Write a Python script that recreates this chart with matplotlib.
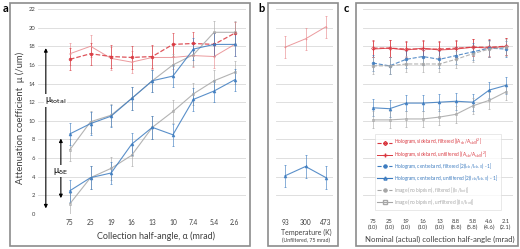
import matplotlib.pyplot as plt
from matplotlib.patches import Rectangle
from matplotlib.lines import Line2D

plt.rcParams['font.family'] = ['Lato', 'DejaVu Sans']

# panel a: attenuation vs collection half-angle
angles_a = ['75', '25', '19', '16', '13', '10', '7.4', '5.4', '2.6']
sb_filt_a = [16.6, 17.2, 16.9, 16.8, 16.9, 18.2, 18.3, 18.2, 19.4]
sb_unfilt_a = [17.2, 18.0, 16.7, 16.3, 16.8, 16.8, 17.0, 16.9, 18.2]
cb_total_a = [8.6, 9.7, 10.5, 12.4, 14.3, 14.8, 17.7, 18.2, 18.2]
img_total_a = [6.9, 9.9, 10.6, 12.4, 14.3, 16.0, 17.1, 19.5, 19.5]
cb_de_a = [2.5, 3.9, 4.4, 7.5, 9.3, 8.5, 12.3, 13.2, 14.4]
img_de_a = [1.1, 3.9, 4.9, 6.3, 9.3, 11.0, 12.9, 14.3, 15.2]
err_a = 1.2

# panel b: temperature
temps = ['93', '300', '473']
sb_temp = [17.9, 18.8, 20.1]
cb_temp = [4.1, 5.1, 3.9]
err_b = 1.2

# panel c: nominal (actual) half-angle
angles_c = ['75\n(10)', '25\n(10)', '19\n(10)', '16\n(10)', '13\n(10)',
            '8.8\n(8.8)', '5.8\n(5.8)', '4.6\n(4.6)', '2.1\n(2.1)']
sb_filt_c = [17.8, 17.8, 17.7, 17.7, 17.7, 17.8, 17.9, 17.9, 18.0]
sb_unfilt_c = [17.7, 17.8, 17.6, 17.8, 17.6, 17.7, 17.9, 17.8, 18.0]
cb_filt_c = [16.2, 15.9, 16.6, 16.9, 16.6, 17.0, 17.4, 17.8, 17.7]
cb_unfilt_c = [11.4, 11.3, 11.9, 11.9, 12.0, 12.1, 12.0, 13.3, 13.8]
img_filt_c = [15.9, 15.9, 16.1, 16.1, 16.1, 16.6, 17.2, 17.7, 17.9]
img_unfilt_c = [10.1, 10.1, 10.2, 10.2, 10.4, 10.7, 11.6, 12.2, 13.1]
err_c = 0.9

legend_labels = [
    r'Hologram, sideband, filtered [(A$_{sb}$/A$_{sb0}$)$^2$]',
    r'Hologram, sideband, unfiltered [(A$_{sb}$/A$_{sb0}$)$^2$]',
    r'Hologram, centreband, filtered [2(I$_{cb}$/I$_{cb,0}$) - 1]',
    r'Hologram, centreband, unfiltered [2(I$_{cb}$/I$_{cb,0}$) - 1]',
    r'Image (no biprism), filtered [(I$_0$/I$_{tot}$)]',
    r'Image (no biprism), unfiltered [(I$_0$/I$_{tot}$)]',
]

RED = '#d9373f'
RED_L = '#e8898d'
BLUE = '#3d7cc0'
GREY = '#a6a6a6'
GRID = '#d9d9d9'

W, H = 520, 249
fig = plt.figure(figsize=(W / 100, H / 100), dpi=100)


def box(x0, y0, x1, y1):
    return [x0 / W, 1 - y1 / H, (x1 - x0) / W, (y1 - y0) / H]


def frame(x0, y0, x1, y1):
    fig.patches.append(Rectangle((x0 / W, 1 - y1 / H), (x1 - x0) / W, (y1 - y0) / H,
                                 transform=fig.transFigure, fill=False,
                                 edgecolor='#8c8c8c', linewidth=1.2))


def setup(ax, xlim):
    ax.set_ylim(0, 22)
    ax.set_xlim(*xlim)
    ax.set_yticks(range(0, 23, 2))
    ax.grid(axis='y', color=GRID, linewidth=0.6)
    ax.set_axisbelow(True)
    for s in ax.spines.values():
        s.set_visible(False)
    ax.tick_params(length=0, labelsize=4.2, colors='#404040')


def series(ax, y, color, err, ls='-', marker='o', mfc=None, lw=0.8, ms=2.0):
    x = range(len(y))
    ax.errorbar(x, y, yerr=err, color=color, linestyle=ls, linewidth=lw,
                marker=marker, markersize=ms, markerfacecolor=mfc or color,
                markeredgewidth=0.5, elinewidth=0.5, ecolor=color, capsize=1.0,
                capthick=0.5, alpha=0.85)


# frames
frame(10, 3, 250, 246)
frame(268, 3, 338, 246)
frame(356, 3, 518, 246)

# ---------- panel a ----------
ax_a = fig.add_axes(box(38, 9, 246, 214))
setup(ax_a, (-1.55, 8.55))
ax_a.set_xticks(range(len(angles_a)), angles_a)
ax_a.tick_params(axis='x', labelsize=4.8, pad=3.5)
ax_a.tick_params(axis='y', pad=2)
series(ax_a, sb_unfilt_a, RED_L, err_a, ls='-', marker='+', lw=0.7)
series(ax_a, sb_filt_a, RED, err_a, ls='--', marker='o', lw=0.9)
series(ax_a, img_total_a, GREY, err_a, ls='-', marker='s', mfc='none', lw=0.8)
series(ax_a, cb_total_a, BLUE, err_a, ls='-', marker='^', lw=0.8)
series(ax_a, img_de_a, GREY, err_a, ls='-', marker='s', mfc='none', lw=0.8)
series(ax_a, cb_de_a, BLUE, err_a, ls='-', marker='^', lw=0.8)

ax_a.annotate('', xy=(-1.17, 17.8), xytext=(-1.17, 0.6),
              arrowprops=dict(arrowstyle='<|-|>', color='black', lw=0.8,
                              mutation_scale=5, shrinkA=0, shrinkB=0))
ax_a.text(-1.2, 12.2, r'μ$_{\rm total}$', fontsize=6.5, va='center', ha='left',
          bbox=dict(facecolor='white', edgecolor='none', pad=0.5))
ax_a.annotate('', xy=(-0.44, 8.1), xytext=(-0.44, 1.7),
              arrowprops=dict(arrowstyle='<|-|>', color='black', lw=0.8,
                              mutation_scale=5, shrinkA=0, shrinkB=0))
ax_a.text(-0.45, 4.6, r'μ$_{\rm δE}$', fontsize=6.5, va='center', ha='center',
          bbox=dict(facecolor='white', edgecolor='none', pad=0.5))

fig.text(3 / W, 1 - 8 / H, 'a', fontsize=8, fontweight='bold', va='center')
fig.text(20 / W, 1 - 118 / H, 'Attenuation coefficient  μ (/um)', fontsize=6.8,
         rotation=90, va='center', ha='center', color='#404040')
fig.text(156 / W, 1 - 236 / H, 'Collection half-angle, α (mrad)', fontsize=6.5,
         va='center', ha='center', color='#404040')

# ---------- panel b ----------
ax_b = fig.add_axes(box(276, 9, 333, 214))
setup(ax_b, (-0.44, 2.34))
ax_b.set_xticks(range(len(temps)), temps)
ax_b.set_yticklabels([])
ax_b.tick_params(axis='x', labelsize=4.8, pad=3.5)
series(ax_b, sb_temp, RED_L, err_b, ls='-', marker='+', lw=0.7)
series(ax_b, cb_temp, BLUE, err_b, ls='-', marker='^', lw=0.8)
fig.text(258 / W, 1 - 8 / H, 'b', fontsize=8, fontweight='bold', va='center')
fig.text(306 / W, 1 - 232 / H, 'Temperature (K)', fontsize=5, va='center',
         ha='center', color='#404040')
fig.text(306 / W, 1 - 240 / H, '(Unfiltered, 75 mrad)', fontsize=3.8, va='center',
         ha='center', color='#404040')

# ---------- panel c ----------
ax_c = fig.add_axes(box(363, 9, 513, 214))
setup(ax_c, (-0.6, 8.43))
ax_c.set_xticks(range(len(angles_c)), angles_c)
ax_c.set_yticklabels([])
ax_c.tick_params(axis='x', labelsize=4.2, pad=3.5)
series(ax_c, sb_filt_c, RED, err_c, ls='--', marker='D', mfc='none', lw=0.9, ms=2.0)
series(ax_c, sb_unfilt_c, RED, err_c, ls='-', marker='+', lw=0.7)
series(ax_c, cb_filt_c, BLUE, err_c, ls='--', marker='o', lw=0.8)
series(ax_c, cb_unfilt_c, BLUE, err_c, ls='-', marker='^', lw=0.8)
series(ax_c, img_filt_c, GREY, err_c, ls='--', marker='o', lw=0.8)
series(ax_c, img_unfilt_c, GREY, err_c, ls='-', marker='s', mfc='none', lw=0.8)

handles = [
    Line2D([], [], color=RED, ls='--', marker='D', mfc='none', ms=2.0, lw=0.8),
    Line2D([], [], color=RED, ls='-', marker='+', ms=2.2, lw=0.7),
    Line2D([], [], color=BLUE, ls='--', marker='o', ms=2.2, lw=0.8),
    Line2D([], [], color=BLUE, ls='-', marker='^', mfc='none', ms=2.2, lw=0.8),
    Line2D([], [], color=GREY, ls='--', marker='o', ms=2.2, lw=0.8),
    Line2D([], [], color=GREY, ls='-', marker='s', mfc='none', ms=2.2, lw=0.8),
]
leg = ax_c.legend(handles, legend_labels, loc='center',
                  bbox_to_anchor=(438 / W, 1 - 172 / H), bbox_transform=fig.transFigure,
                  fontsize=3.4, frameon=True, fancybox=False, edgecolor=GRID,
                  handlelength=3, labelspacing=0.45, borderpad=0.6, handletextpad=0.6,
                  borderaxespad=0)
leg.get_frame().set_linewidth(0.5)
for txt, c in zip(leg.get_texts(), [RED, RED, BLUE, BLUE, GREY, GREY]):
    txt.set_color(c)

fig.text(344 / W, 1 - 8 / H, 'c', fontsize=8, fontweight='bold', va='center')
fig.text(440 / W, 1 - 239 / H, 'Nominal (actual) collection half-angle (mrad)',
         fontsize=5.6, va='center', ha='center', color='#404040')

fig.savefig('out.png', dpi=100)
